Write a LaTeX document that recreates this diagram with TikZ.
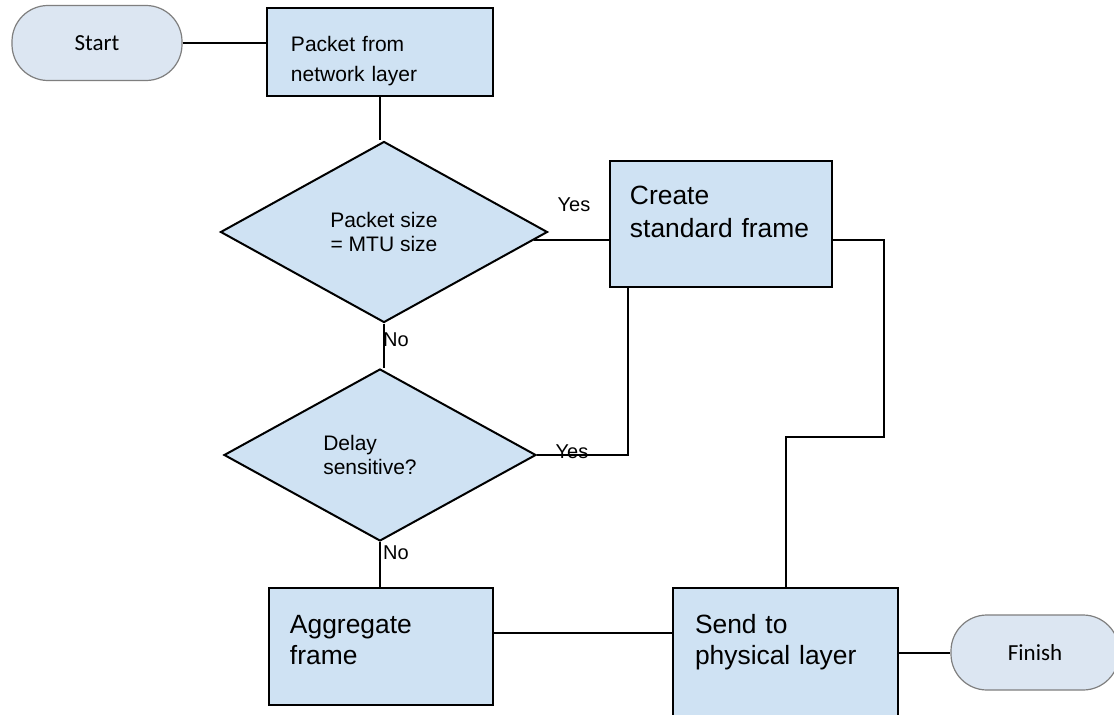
\documentclass[tikz,border=0pt]{standalone}
\usepackage{fontspec}
\setmainfont{Liberation Sans}
\newfontfamily\termfont{Carlito}
\usetikzlibrary{positioning,shapes.geometric}

\definecolor{boxblue}{HTML}{CFE2F3}
\definecolor{termblue}{HTML}{DCE6F2}
\definecolor{termline}{HTML}{7F7F7F}

\begin{document}
\begin{tikzpicture}[x=0.5bp,y=-0.5bp,
  every node/.style={font=\fontsize{10.5bp}{12bp}\selectfont},
  term/.style={rectangle,rounded corners=18bp,draw=termline,line width=0.6bp,fill=termblue,
    minimum width=85bp,minimum height=37.5bp,font=\termfont\fontsize{11.5bp}{14bp}\selectfont},
  proc/.style={rectangle,draw,line width=1bp,fill=boxblue,align=left,inner ysep=0pt},
  big/.style={font=\fontsize{13.2bp}{15.5bp}\selectfont},
  decide/.style={diamond,draw,line width=1bp,fill=boxblue,inner sep=0pt,align=center},
  answer/.style={font=\fontsize{10bp}{12bp}\selectfont,inner sep=0pt},
  link/.style={line width=1bp}]
\useasboundingbox (0,0) rectangle (1114,715);
\clip (0,0) rectangle (1114,715);
\fill[white] (0,0) rectangle (1114,715);

\node[term] (start) at (97,43) {Start};
\node[proc,text width=89bp,inner xsep=12bp,text height=21.5bp,text depth=22.5bp,
  font=\fontsize{10.5bp}{15bp}\selectfont] (pkt) at (380,52) {Packet from\\network layer};
\node[decide,minimum width=163.5bp,minimum height=90.5bp] (dec1) at (384,232) {Packet size\\= MTU size};
\node[proc,big,text width=91bp,inner xsep=10bp,text height=22bp,text depth=41bp,
  font=\fontsize{13.2bp}{16bp}\selectfont] (create) at (721,224) {Create\\standard frame};
\node[decide,align=left,minimum width=156bp,minimum height=86bp] (dec2) at (380,455)
  {Delay\\sensitive?\hspace*{10bp}};
\node[proc,big,text width=91bp,inner xsep=10.5bp,text height=22.5bp,text depth=36bp] (agg) at (381,646.5) {Aggregate\\frame};
\node[proc,big,text width=90.5bp,inner xsep=11bp,text height=22.5bp,text depth=53.5bp] (send) at (785.5,664) {Send to\\physical layer};
\node[term,minimum width=84bp] (finish) at (1035,652.5) {Finish};

\node[answer] (yes1) at (574,205) {Yes};
\node[answer] (no1) at (396,340) {No};
\node[answer] (yes2) at (572,452) {Yes};
\node[answer] (no2) at (396,553) {No};

\coordinate (bend) at (884,437);

\draw[link] (start.east) -- (start.east -| pkt.west);
\draw[link] (pkt.south) -- (pkt.south |- dec1.north);
\draw[link] (dec1.-3.8) -- (dec1.-3.8 -| create.west);
\draw[link] (create.east |- dec1.-3.8) -| (bend) -| (send.north);
\draw[link] (dec2.east) -| ([xshift=9.5bp]create.south west);
\draw[link] (dec1.south) -- (dec1.south |- dec2.north);
\draw[link] (dec2.south) -- (dec2.south |- agg.north);
\draw[link] ([yshift=6.75bp]agg.east) -- ([yshift=6.75bp]agg.east -| send.west);
\draw[link] (send.east |- finish.west) -- (finish.west);
\end{tikzpicture}
\end{document}
